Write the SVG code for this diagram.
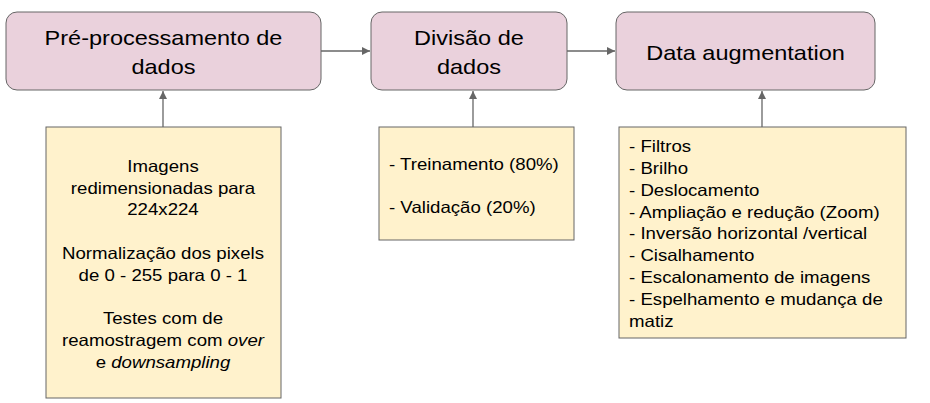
<svg xmlns="http://www.w3.org/2000/svg" width="930" height="403" viewBox="0 0 930 403">
<defs>
<style>
.step{fill:#ead1dc;stroke:#666666;stroke-width:1}
.note{fill:#fff2cc;stroke:#666666;stroke-width:1}
.title{font-family:"Liberation Sans",Arial,sans-serif;font-size:21px;fill:#000;text-anchor:middle}
.body{font-family:"Liberation Sans",Arial,sans-serif;font-size:16.5px;fill:#000}
.c{text-anchor:middle}
.edge{stroke:#666666;stroke-width:1.3;fill:none;marker-end:url(#ah)}
</style>
<marker id="ah" viewBox="0 0 10 10" refX="10" refY="5" markerWidth="8" markerHeight="8" markerUnits="userSpaceOnUse" orient="auto">
<path d="M0,0 L10,5 L0,10 z" fill="#666666"/>
</marker>
</defs>
<rect width="930" height="403" fill="#ffffff"/>
<g id="connectors">
<line class="edge" x1="321" y1="51" x2="370" y2="51"/>
<line class="edge" x1="567" y1="51" x2="615" y2="51"/>
<line class="edge" x1="163" y1="127" x2="163" y2="91"/>
<line class="edge" x1="473" y1="127" x2="473" y2="91"/>
<line class="edge" x1="762" y1="127" x2="762" y2="91"/>
</g>
<g id="node-preprocessamento">
<rect class="step" x="6" y="12" width="315" height="78" rx="11"/>
<g transform="scale(1.12 1)">
<text class="title" x="145.98" y="45">Pré-processamento de</text>
<text class="title" x="145.98" y="74">dados</text>
</g>
</g>
<g id="node-divisao">
<rect class="step" x="371" y="12" width="196" height="78" rx="11"/>
<g transform="scale(1.12 1)">
<text class="title" x="418.75" y="45">Divisão de</text>
<text class="title" x="418.75" y="74">dados</text>
</g>
</g>
<g id="node-augmentation">
<rect class="step" x="616" y="12" width="259" height="78" rx="11"/>
<g transform="scale(1.12 1)">
<text class="title" x="665.63" y="60">Data augmentation</text>
</g>
</g>
<g id="note-preprocessamento">
<rect class="note" x="46" y="127" width="235" height="271"/>
<g transform="scale(1.13 1)">
<text class="body c" x="144.25" y="172">Imagens</text>
<text class="body c" x="144.25" y="193.75">redimensionadas para</text>
<text class="body c" x="144.25" y="215.5">224x224</text>
<text class="body c" x="144.25" y="259">Normalização dos pixels</text>
<text class="body c" x="144.25" y="280.75">de 0 - 255 para 0 - 1</text>
<text class="body c" x="144.25" y="324.25">Testes com de</text>
<text class="body c" x="144.25" y="346">reamostragem com <tspan font-style="italic">over</tspan></text>
<text class="body c" x="144.25" y="367.75">e <tspan font-style="italic">downsampling</tspan></text>
</g>
</g>
<g id="note-divisao">
<rect class="note" x="379" y="127" width="195" height="113"/>
<g transform="scale(1.13 1)">
<text class="body" x="344.25" y="170">- Treinamento (80%)</text>
<text class="body" x="344.25" y="213">- Validação (20%)</text>
</g>
</g>
<g id="note-augmentation">
<rect class="note" x="619" y="127" width="287" height="211"/>
<g transform="scale(1.13 1)">
<text class="body" x="556.64" y="152">- Filtros</text>
<text class="body" x="556.64" y="173.9">- Brilho</text>
<text class="body" x="556.64" y="195.75">- Deslocamento</text>
<text class="body" x="556.64" y="217.6">- Ampliação e redução (Zoom)</text>
<text class="body" x="556.64" y="239.5">- Inversão horizontal /vertical</text>
<text class="body" x="556.64" y="261.4">- Cisalhamento</text>
<text class="body" x="556.64" y="283.25">- Escalonamento de imagens</text>
<text class="body" x="556.64" y="305.1">- Espelhamento e mudança de</text>
<text class="body" x="556.64" y="327">matiz</text>
</g>
</g>
</svg>
